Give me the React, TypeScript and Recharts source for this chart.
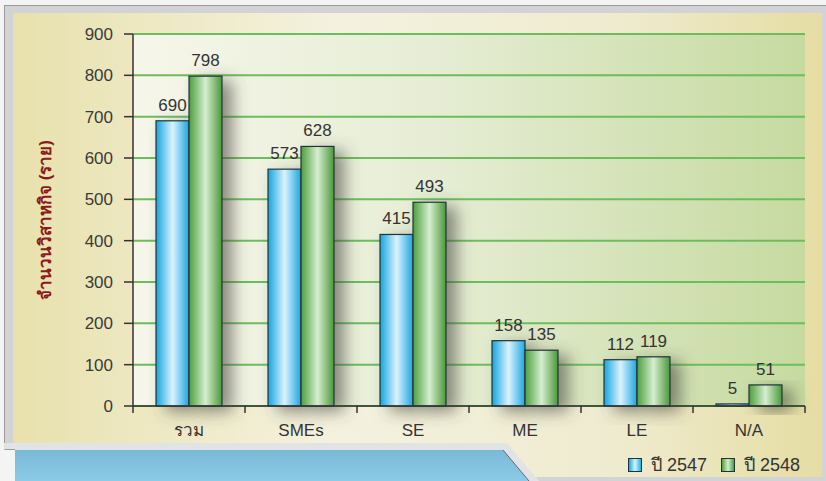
import React from 'react';
import { BarChart, Bar, XAxis, YAxis, CartesianGrid, LabelList, Legend } from 'recharts';

const categories = ['รวม', 'SMEs', 'SE', 'ME', 'LE', 'N/A'];
const values2547 = [690, 573, 415, 158, 112, 5];
const values2548 = [798, 628, 493, 135, 119, 51];
const yTicks = [0, 100, 200, 300, 400, 500, 600, 700, 800, 900];
const seriesNames = ['ปี 2547', 'ปี 2548'];
const yTitle = 'จำนวนวิสาหกิจ (ราย)';

const data = categories.map((name, i) => ({ name, y2547: values2547[i], y2548: values2548[i] }));

const FONT = '"Liberation Sans", Arial, "Noto Sans", "DejaVu Sans", sans-serif';

const BarShape = (props: any) => {
  const { x, y, width, height, fill } = props;
  if (height == null || width == null) return null;
  return (
    <rect
      x={x}
      y={y}
      width={width}
      height={Math.max(height, 1)}
      fill={fill}
      stroke="#1c3638"
      strokeWidth={1.2}
      filter="url(#barShadow)"
    />
  );
};

const XTick = (props: any) => {
  const { x, y, payload, index, width, visibleTicksCount } = props;
  const half = width / visibleTicksCount / 2;
  return (
    <g>
      {index === 0 && <line x1={x - half} x2={x - half} y1={y} y2={y + 7} stroke="#333" strokeWidth={1.5} />}
      <line x1={x + half} x2={x + half} y1={y} y2={y + 7} stroke="#333" strokeWidth={1.5} />
      <text x={x} y={y + 30} textAnchor="middle" fontSize={17} fill="#333" fontFamily={FONT}>
        {payload.value}
      </text>
    </g>
  );
};

const YTitle = (props: any) => {
  const { viewBox } = props;
  const cx = viewBox.x + 12;
  const cy = viewBox.y + viewBox.height / 2;
  return (
    <text
      x={cx}
      y={cy}
      transform={`rotate(-90 ${cx} ${cy})`}
      textAnchor="middle"
      dominantBaseline="central"
      fontSize={17}
      fontWeight="bold"
      fill="#8b1a1a"
      fontFamily={FONT}
    >
      {yTitle}
    </text>
  );
};

const renderLegend = () => (
  <div style={{ display: 'flex', alignItems: 'center', fontFamily: FONT, fontSize: 18, color: '#333' }}>
    <span style={{ width: 12, height: 12, border: '1.3px solid #1c3638', background: 'linear-gradient(90deg,#19a8e2,#d8f2fd 50%,#22aee8)', marginRight: 9 }} />
    <span style={{ marginRight: 14 }}>{seriesNames[0]}</span>
    <span style={{ width: 12, height: 12, border: '1.3px solid #1c3638', background: 'linear-gradient(90deg,#4ea240,#d6ecce 50%,#4a9e3a)', marginRight: 9 }} />
    <span>{seriesNames[1]}</span>
  </div>
);

function Backdrop() {
  return (
    <svg width={826} height={481} style={{ position: 'absolute', left: 0, top: 0 }}>
      <defs>
        <linearGradient id="panelGrad" x1="0" x2="1" y1="0" y2="0">
          <stop offset="0" stopColor="#e8e1ad" />
          <stop offset="0.4" stopColor="#f4f2df" />
          <stop offset="0.75" stopColor="#efebcf" />
          <stop offset="1" stopColor="#e5dda3" />
        </linearGradient>
        <linearGradient id="tabGrad" x1="0" x2="0" y1="0" y2="1">
          <stop offset="0" stopColor="#7ab9d6" />
          <stop offset="1" stopColor="#8ccbe8" />
        </linearGradient>
      </defs>
      <rect x={0} y={0} width={826} height={481} fill="#f4f4f4" />
      <rect x={4.5} y={5.5} width={822} height={476} fill="#d2d3d5" stroke="#9a9a9a" />
      <rect x={13} y={13} width={809} height={464} fill="url(#panelGrad)" />
      <polygon points="4,443 507,443 539,481 4,481" fill="#e2e3e5" />
      <rect x={0} y={450} width={15} height={31} fill="#f4f4f4" />
      <line x1={4.5} y1={449.5} x2={15} y2={449.5} stroke="#9a9a9a" />
      <path d="M15,450 L503,450 L529,481 L15,481 Z" fill="url(#tabGrad)" />
      <line x1={503} y1={450} x2={529} y2={481} stroke="#667" strokeWidth={1} />
    </svg>
  );
}

export default function App() {
  return (
    <div style={{ position: 'absolute', left: 0, top: 0, width: 826, height: 481, overflow: 'hidden' }}>
      <Backdrop />
      <div style={{ position: 'absolute', left: 0, top: 0 }}>
        <BarChart
          width={826}
          height={481}
          data={data}
          margin={{ top: 34, right: 21, bottom: 45, left: 33 }}
          barGap={0}
          barSize={33}
        >
          <defs>
            <linearGradient id="plotGrad" x1="0" x2="1" y1="0" y2="0">
              <stop offset="0" stopColor="#f6f6ea" />
              <stop offset="0.45" stopColor="#e6edd4" />
              <stop offset="1" stopColor="#c6daa0" />
            </linearGradient>
            <linearGradient id="blueGrad" x1="0" x2="1" y1="0" y2="0">
              <stop offset="0" stopColor="#14a4df" />
              <stop offset="0.5" stopColor="#d9f2fd" />
              <stop offset="1" stopColor="#1eaae6" />
            </linearGradient>
            <linearGradient id="greenGrad" x1="0" x2="1" y1="0" y2="0">
              <stop offset="0" stopColor="#4b9f3c" />
              <stop offset="0.5" stopColor="#d7edcf" />
              <stop offset="1" stopColor="#47993a" />
            </linearGradient>
            <filter id="barShadow" x="-80%" y="-20%" width="300%" height="160%">
              <feDropShadow dx={10} dy={5} stdDeviation={8} floodColor="#44443a" floodOpacity={0.6} />
            </filter>
          </defs>
          <CartesianGrid
            vertical={false}
            stroke="#6bbd5d"
            strokeWidth={2}
            fill="url(#plotGrad)"
            fillOpacity={1}
          />
          <XAxis
            dataKey="name"
            tickLine={false}
            tickSize={0}
            tickMargin={0}
            height={30}
            axisLine={{ stroke: '#333', strokeWidth: 1.5 }}
            tick={<XTick />}
            interval={0}
          />
          <YAxis
            width={100}
            domain={[0, 900]}
            ticks={yTicks}
            interval={0}
            tickSize={9}
            tickMargin={11}
            axisLine={{ stroke: '#333', strokeWidth: 1.5 }}
            tickLine={{ stroke: '#333', strokeWidth: 1.5 }}
            tick={{ fontSize: 17, fill: '#3a3a3a', fontFamily: FONT }}
            label={<YTitle />}
          />
          <Legend
            layout="horizontal"
            verticalAlign="middle"
            align="center"
            content={renderLegend}
            wrapperStyle={{ left: 628, top: 450, width: 200, height: 22 }}
          />
          <Bar dataKey="y2547" name={seriesNames[0]} fill="url(#blueGrad)" shape={<BarShape />} isAnimationActive={false}>
            <LabelList dataKey="y2547" position="top" offset={10} fontSize={17} fill="#333" fontFamily={FONT} />
          </Bar>
          <Bar dataKey="y2548" name={seriesNames[1]} fill="url(#greenGrad)" shape={<BarShape />} isAnimationActive={false}>
            <LabelList dataKey="y2548" position="top" offset={10} fontSize={17} fill="#333" fontFamily={FONT} />
          </Bar>
        </BarChart>
      </div>
    </div>
  );
}
